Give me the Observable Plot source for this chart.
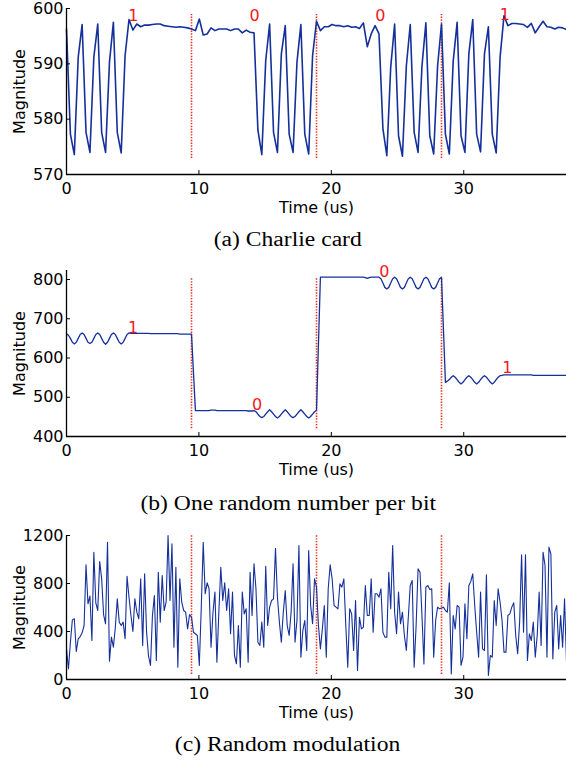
<!DOCTYPE html>
<html><head><meta charset="utf-8">
<script src="https://cdn.jsdelivr.net/npm/d3@7"></script>
<script src="https://cdn.jsdelivr.net/npm/@observablehq/plot@0.6"></script>
<style>
body{margin:0;background:#fff;width:566px;overflow:hidden;}
.cap{font-family:"Liberation Serif","Times New Roman",serif;font-size:20px;text-align:center;color:#000;padding-left:10px;box-sizing:border-box;width:566px;}
.cap span{display:inline-block;transform:scaleX(1.18);}
svg{display:block}
</style></head><body><div id="chart"></div>
<script>
// shared
const bitBoundaries = [9.44, 18.88, 28.32];
const xTicks = [0, 10, 20, 30];
const xDomain = [0, 37.76];
const bitLabels = ["1", "0", "0", "1"];

// (a) Charlie card, sample period 0.295 us
const charlieDt = 0.295;
const charlieValues = [
 596.3,577.3,573.6,591.2,597.1,577.6,574.0,591.2,597.2,577.6,574.0,590.3,597.5,577.6,573.9,591.5,598.0,
 596.1,597.2,596.7,597.0,597.0,597.1,597.2,597.2,596.9,596.8,596.7,596.6,596.7,596.6,596.5,596.3,
 596.0,598.1,595.2,595.4,596.5,596.0,596.3,596.3,596.3,596.0,596.3,596.3,595.6,596.1,595.7,595.6,
 578.0,573.6,590.6,597.2,577.6,574.0,591.8,596.9,577.3,574.0,590.3,597.1,577.3,573.7,591.5,597.7,
 596.0,596.7,596.7,597.1,596.9,596.9,596.7,596.9,596.6,596.7,596.4,597.4,593.1,595.4,596.9,595.4,
 578.3,573.4,589.4,597.2,577.0,573.3,589.6,597.1,577.6,574.0,589.6,597.4,577.0,573.7,589.6,597.2,
 577.3,573.7,590.5,597.5,577.0,574.0,591.8,598.0,577.3,574.1,591.8,596.7,577.3,573.9,591.2,598.7,
 596.9,597.3,597.3,597.2,597.1,596.6,597.3,595.6,596.7,597.7,596.7,596.6,596.3,596.6,596.5,596.2
];
const charlieYDomain = [570, 600];
const charlieYTicks = [570, 580, 590, 600];
const charlieLabelX = [5.05, 14.2, 23.7, 33.1];
const charlieLabelY = [598.7, 598.6, 598.6, 598.9];
const charlieMarkerRange = [572.9, 598.9];

// (b) One random number per bit, sample period 0.1475 us
const perBitDt = 0.1475;
const perBitValues = [
 662,658,650,640,636,640,650,660,664,660,650,640,637,640,650,660,664,660,650,640,635,640,650,660,664,660,650,640,636,640,650,660,664,
 663,663,663,663,663,663,663,663,663,663,662,662,662,662,662,662,662,662,662,662,662,662,662,662,662,661,661,661,661,661,661,661,
 563,466,
 466,466,466,466,466,466,466,467,467,467,466,466,466,466,466,466,466,466,466,466,466,466,466,466,466,466,465,465,465,
 466,463,457,451,448,451,457,463,468,463,457,451,447,451,457,463,468,463,457,451,448,451,457,463,468,463,457,451,447,451,457,463,467,
 636,806,
 806,806,806,806,806,806,806,806,806,806,806,806,806,806,806,806,806,806,806,806,806,806,805,803,805,806,806,806,806,
 806,802,791,780,776,780,791,802,806,802,791,780,776,780,791,802,806,802,791,780,776,780,791,802,806,802,791,780,776,780,791,802,806,
 672,538,
 541,545,551,555,551,545,538,534,538,545,551,555,551,545,538,534,538,545,551,555,551,545,538,534,538,545,551,555,
 556,557,557,557,557,557,557,557,557,557,557,557,557,557,557,557,556,556,556,556,556,556,556,556,556,556,556,556,556,556,556,556,556,556
];
const perBitYDomain = [400, 823];
const perBitYTicks = [400, 500, 600, 700, 800];
const perBitLabelX = [5.03, 14.4, 24.0, 33.3];
const perBitLabelY = [678, 481, 820, 574];
const perBitMarkerRange = [420, 802];

// (c) Random modulation, sample period 0.1475 us
const randomDt = 0.1475;
const randomValues = [
 256,89,311,497,506,233,339,358,389,450,956,631,695,325,1061,639,575,983,839,539,464,1144,153,353,269,436,672,478,450,478,339,861,
 686,533,400,672,561,506,839,283,881,394,194,117,533,700,158,894,478,867,575,644,1200,658,1131,269,936,103,839,644,575,561,422,540,
 520,394,381,367,117,600,1144,714,806,756,269,561,728,144,561,936,658,806,575,756,381,728,200,131,450,103,728,547,589,144,894,533,
 964,756,311,283,478,269,944,450,603,658,672,1094,686,478,311,561,742,450,367,561,964,311,492,1117,186,408,492,242,1075,617,464,839,
 770,450,255,422,617,186,756,956,839,617,603,589,797,770,839,450,103,589,547,242,658,75,519,422,436,783,533,533,839,394,714,714,
 686,756,394,353,353,894,589,1117,561,381,728,464,561,367,242,519,783,825,103,450,922,894,533,130,770,783,750,756,186,492,603,589,
 596,603,575,561,806,47,533,422,617,603,117,186,631,339,783,817,881,617,394,186,728,255,242,872,33,200,186,658,450,756,644,492,
 228,228,533,547,603,639,367,214,478,1039,394,1039,158,381,325,478,186,367,728,283,1061,950,186,1103,1047,172,561,617,255,533,269,672,
 144
];
const randomYDomain = [0, 1200];
const randomYTicks = [0, 400, 800, 1200];
const randomMarkerRange = [42, 1200];

const lineColor = "#15309a";
const markerColor = "#e8321e";
const labelColor = "#f21a1a";
const font = "DejaVu Sans";

function panel({values, dt, yDomain, yTicks, labelX, labelY, markerRange, strokeWidth, height, marginTop, plotH}) {
  const data = values.map((v, i) => ({t: i * dt, v}));
  const marks = [
    Plot.ruleX(bitBoundaries, {y1: markerRange[0], y2: markerRange[1], stroke: markerColor, strokeWidth: 1.6, strokeDasharray: "1.4,1.4"}),
    Plot.line(data, {x: "t", y: "v", stroke: lineColor, strokeWidth}),
    Plot.ruleX([xDomain[0]], {stroke: "#000", strokeWidth: 1.3}),
    Plot.ruleY([yDomain[0]], {stroke: "#000", strokeWidth: 1.3}),
    Plot.axisX({ticks: xTicks, tickSize: -4, tickPadding: 12, label: null, tickFormat: d => String(d), fontSize: 16, fill: "#000"}),
    Plot.axisY({ticks: yTicks, tickSize: -4, tickPadding: 7, label: null, tickFormat: d => String(d), fontSize: 16, fill: "#000"}),
    Plot.text(["Time (us)"], {frameAnchor: "bottom", textAnchor: "middle", lineAnchor: "middle", dy: 33, fontSize: 16, fill: "#000"}),
    Plot.text(["Magnitude"], {frameAnchor: "left", textAnchor: "middle", lineAnchor: "middle", rotate: -90, dx: -47, fontSize: 16, fill: "#000"})
  ];
  if (labelX) {
    const lab = bitLabels.map((s, i) => ({s, x: labelX[i], y: labelY[i]}));
    marks.push(Plot.text(lab, {x: "x", y: "y", text: "s", fill: labelColor, fontSize: 16}));
  }
  return Plot.plot({
    width: 566, height, marginTop, marginBottom: height - marginTop - plotH, marginLeft: 66, marginRight: 0,
    x: {domain: xDomain},
    y: {domain: yDomain},
    style: {fontFamily: font, fontSize: "16px", color: "#000", background: "#fff", overflow: "visible"},
    marks
  });
}

function caption(text, h) {
  const d = document.createElement("div");
  d.className = "cap";
  d.style.height = h + "px";
  d.style.lineHeight = h + "px";
  const s = document.createElement("span");
  s.textContent = text;
  d.appendChild(s);
  return d;
}

const root = document.getElementById("chart");
root.appendChild(panel({values: charlieValues, dt: charlieDt, yDomain: charlieYDomain, yTicks: charlieYTicks,
  labelX: charlieLabelX, labelY: charlieLabelY, markerRange: charlieMarkerRange, strokeWidth: 1.6,
  height: 222, marginTop: 8, plotH: 166}));
root.appendChild(caption("(a) Charlie card", 34));
root.appendChild(panel({values: perBitValues, dt: perBitDt, yDomain: perBitYDomain, yTicks: perBitYTicks,
  labelX: perBitLabelX, labelY: perBitLabelY, markerRange: perBitMarkerRange, strokeWidth: 1.3,
  height: 228, marginTop: 14, plotH: 166}));
root.appendChild(caption("(b) One random number per bit", 38));
root.appendChild(panel({values: randomValues, dt: randomDt, yDomain: randomYDomain, yTicks: randomYTicks,
  markerRange: randomMarkerRange, strokeWidth: 1.1,
  height: 205, marginTop: 13, plotH: 144}));
root.appendChild(caption("(c) Random modulation", 34));
</script></body></html>
